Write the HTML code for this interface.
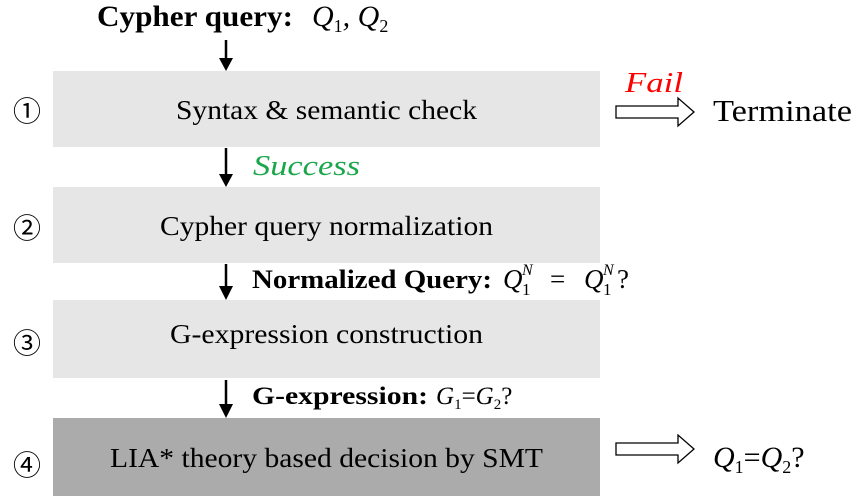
<!DOCTYPE html>
<html><head><style>body{margin:0;background:#fff}svg{display:block}</style></head><body>
<svg width="866" height="496" xmlns="http://www.w3.org/2000/svg" font-family="Liberation Serif, serif">
<rect width="866" height="496" fill="#fff"/>
<rect x="53" y="71" width="547" height="76" fill="#e6e6e6"/>
<rect x="53" y="187" width="547" height="76" fill="#e6e6e6"/>
<rect x="53" y="300" width="547" height="78" fill="#e6e6e6"/>
<rect x="53" y="418" width="547" height="78" fill="#ababab"/>
<g stroke="#000" stroke-width="2.5">
<line x1="226" y1="40" x2="226" y2="60"/><line x1="226" y1="148" x2="226" y2="176"/>
<line x1="226" y1="264" x2="226" y2="288"/><line x1="226" y1="380" x2="226" y2="406"/>
</g>
<g fill="#000">
<polygon points="219,58 233,58 226,71"/><polygon points="219,174 233,174 226,187"/>
<polygon points="219,286 233,286 226,300"/><polygon points="219,404 233,404 226,418"/>
</g>
<g fill="#fff" stroke="#000" stroke-width="1.3">
<polygon points="616,106 678,106 678,98 694,112 678,126 678,118 616,118"/>
<polygon points="616,443 678,443 678,435 694,449 678,463 678,455 616,455"/>
</g>
<text x="97" y="26" font-size="30" font-weight="bold" textLength="196" lengthAdjust="spacingAndGlyphs">Cypher query:</text>
<text x="312" y="26" font-size="30" font-style="italic">Q<tspan font-style="normal" font-size="18" dy="6">1</tspan><tspan dy="-6">, Q</tspan><tspan font-style="normal" font-size="18" dy="6">2</tspan></text>
<text x="176" y="119" font-size="27" textLength="301" lengthAdjust="spacingAndGlyphs">Syntax &amp; semantic check</text>
<text x="625" y="92" font-size="29" font-style="italic" fill="#ff0000" textLength="58" lengthAdjust="spacingAndGlyphs">Fail</text>
<text x="713" y="121" font-size="31" textLength="139" lengthAdjust="spacingAndGlyphs">Terminate</text>
<text x="253" y="175" font-size="29" font-style="italic" fill="#1aa64a" textLength="107" lengthAdjust="spacingAndGlyphs">Success</text>
<text x="160" y="235" font-size="27" textLength="333" lengthAdjust="spacingAndGlyphs">Cypher query normalization</text>
<text x="252" y="288" font-size="26" font-weight="bold" textLength="240" lengthAdjust="spacingAndGlyphs">Normalized Query:</text>
<g font-size="27">
<text x="503" y="288" font-style="italic">Q</text>
<text x="522" y="295" font-size="17">1</text>
<text x="522" y="275" font-size="16" font-style="italic">N</text>
<text x="550" y="288">=</text>
<text x="584" y="288" font-style="italic">Q</text>
<text x="603" y="295" font-size="17">1</text>
<text x="603" y="275" font-size="16" font-style="italic">N</text>
<text x="617" y="288">?</text>
</g>
<text x="170" y="343" font-size="27" textLength="313" lengthAdjust="spacingAndGlyphs">G-expression construction</text>
<text x="252" y="404" font-size="25" font-weight="bold" textLength="176" lengthAdjust="spacingAndGlyphs">G-expression:</text>
<text x="436" y="404" font-size="25" font-style="italic">G<tspan font-style="normal" font-size="15" dy="5">1</tspan><tspan font-style="normal" dy="-5">=</tspan>G<tspan font-style="normal" font-size="15" dy="5">2</tspan><tspan font-style="normal" dy="-5">?</tspan></text>
<text x="110" y="467" font-size="27" textLength="433" lengthAdjust="spacingAndGlyphs">LIA* theory based decision by SMT</text>
<text x="713" y="467" font-size="30" font-style="italic">Q<tspan font-style="normal" font-size="18" dy="6">1</tspan><tspan font-style="normal" dy="-6">=</tspan>Q<tspan font-style="normal" font-size="18" dy="6">2</tspan><tspan font-style="normal" dy="-6">?</tspan></text>
<g font-family="Noto Sans CJK JP, sans-serif" font-size="28">
<text x="13" y="121">①</text><text x="13" y="238">②</text><text x="13" y="353">③</text><text x="13" y="475">④</text>
</g>
</svg>
</body></html>
